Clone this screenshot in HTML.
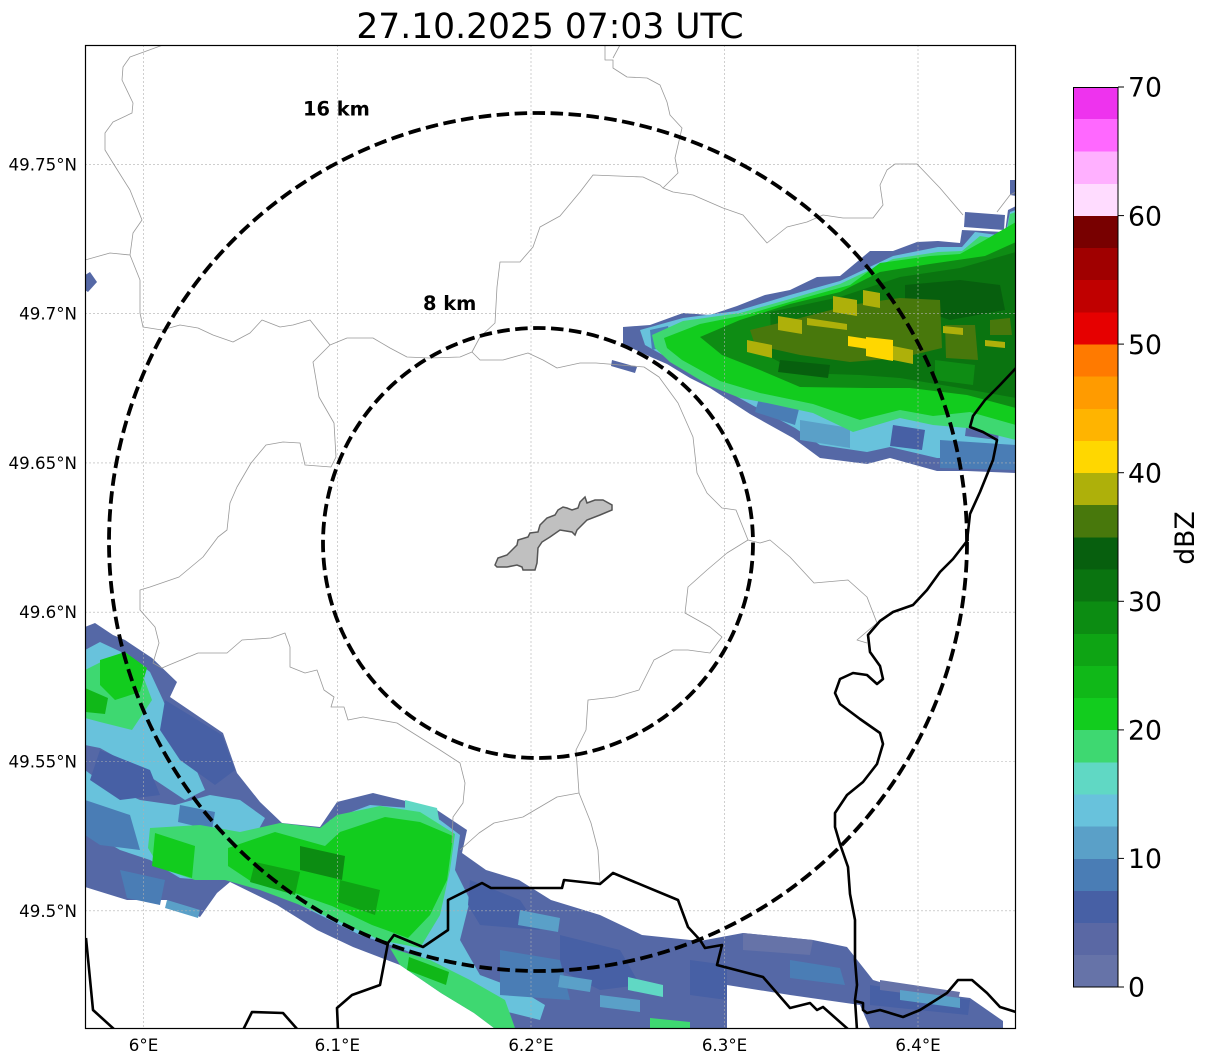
<!DOCTYPE html>
<html><head><meta charset="utf-8"><style>
html,body{margin:0;padding:0;background:#fff;}
svg{display:block;}
text{font-family:"DejaVu Sans","Liberation Sans",sans-serif;}
</style></head><body>
<svg width="1207" height="1064" viewBox="0 0 1207 1064" xmlns="http://www.w3.org/2000/svg">
<defs><clipPath id="ax"><rect x="85.5" y="45.5" width="930" height="983"/></clipPath></defs>
<rect width="1207" height="1064" fill="#fff"/>
<g clip-path="url(#ax)">
<!-- NE band -->
<polygon fill="#5568a6" points="623,327 650,325 683,313 710,315 737,306 765,295 790,290 817,277 840,276 870,251 893,251 917,242 938,241 960,243 962,230 1005,232 1008,210 1016,206 1016,473 967,471 937,471 890,458 867,464 820,458 793,438 750,414 710,388 690,378 667,364 653,358 623,344"/>
<polygon fill="#5568a6" points="965,212 1005,215 1004,230 964,227"/>
<polygon fill="#5568a6" points="1010,180 1016,180 1016,196 1010,195"/>
<polygon fill="#5568a6" points="612,360 637,367 635,373 611,366"/>
<polygon fill="#68c2dc" points="640,330 683,318 737,311 790,295 840,281 893,256 938,247 962,247 975,232 1005,236 1010,212 1016,210 1016,458 967,458 937,458 890,447 867,452 820,445 795,428 752,405 712,383 668,358 645,345"/>
<polygon fill="#4760a5" points="893,425 925,430 922,450 890,446"/>
<polygon fill="#4a7db5" points="940,440 1016,445 1016,470 940,468"/>
<polygon fill="#4a7db5" points="760,395 800,405 795,425 755,412"/>
<polygon fill="#5aa0c8" points="800,420 850,428 850,448 800,440"/>
<polygon fill="#5568a6" points="967,420 1000,425 998,440 965,436"/>
<polygon fill="#4a7db5" points="650,330 668,326 672,345 652,350"/>
<polygon fill="#3ed871" points="652,335 683,321 740,313 790,299 840,284 893,259 938,252 962,251 980,236 1005,240 1010,214 1016,212 1016,440 967,428 933,425 900,418 853,432 813,413 767,403 740,398 710,386 670,362 655,348"/>
<polygon fill="#12cc1e" points="664,338 700,324 745,315 800,299 850,285 880,263 930,256 960,254 985,240 1016,222 1016,425 970,412 933,416 900,410 860,420 813,404 760,393 720,381 682,360 667,348"/>
<polygon fill="#0e8c14" points="700,337 740,320 790,304 840,292 880,272 930,264 985,256 1016,242 1016,408 967,395 910,388 867,388 800,387 760,370 722,355"/>
<polygon fill="#0a7410" points="770,312 840,297 900,277 960,268 1016,252 1016,398 960,388 900,378 860,375 800,373 772,358"/>
<polygon fill="#075f0e" points="905,285 960,280 1000,285 1005,310 950,320 905,305"/>
<polygon fill="#075f0e" points="780,360 830,365 828,378 778,372"/>
<polygon fill="#0e8c14" points="935,360 975,365 973,385 935,380"/>
<polygon fill="#48780c" points="750,330 800,318 850,305 900,298 940,300 942,348 900,358 850,362 800,355 755,345"/>
<polygon fill="#48780c" points="945,325 975,325 978,360 946,358"/>
<polygon fill="#48780c" points="990,320 1010,318 1012,335 990,335"/>
<polygon fill="#aeb00a" points="747,340 772,345 772,358 747,352"/>
<polygon fill="#aeb00a" points="778,316 802,320 802,334 778,330"/>
<polygon fill="#aeb00a" points="833,296 857,300 857,316 833,312"/>
<polygon fill="#aeb00a" points="863,290 880,293 880,308 863,305"/>
<polygon fill="#aeb00a" points="807,318 847,324 847,330 807,325"/>
<polygon fill="#aeb00a" points="893,346 913,350 913,364 893,360"/>
<polygon fill="#aeb00a" points="943,326 963,328 963,335 943,333"/>
<polygon fill="#aeb00a" points="985,340 1005,342 1005,348 985,346"/>
<polygon fill="#ffd700" points="866,337 893,340 893,361 866,356"/>
<polygon fill="#ffd700" points="848,336 868,339 868,349 848,346"/>

<!-- small piece top-left -->
<polygon fill="#5568a6" points="85,275 90,272 97,282 88,292 85,290"/>

<!-- SW band -->
<polygon fill="#5568a6" points="85,627 95,623 113,635 125,640 152,658 177,682 170,697 223,733 237,773 260,802 282,823 320,827 337,802 373,793 410,802 437,810 467,830 462,853 486,870 519,880 551,900 600,915 642,935 700,941 743,933 813,940 847,947 873,980 907,990 970,998 1003,1021 1003,1028 870,1028 860,1005 790,995 727,985 727,1028 494,1028 474,1013 441,993 400,965 353,947 317,930 277,905 230,882 217,893 200,917 167,900 127,900 85,887"/>
<polygon fill="#68c2dc" points="85,650 100,642 130,656 150,672 163,700 175,730 192,760 205,790 185,800 155,780 125,762 100,748 85,745"/>
<polygon fill="#68c2dc" points="85,770 105,785 140,800 175,805 210,795 240,800 265,818 250,845 225,862 205,880 180,878 150,860 120,850 95,835 85,828"/>
<polygon fill="#68c2dc" points="330,820 370,805 410,808 440,820 460,835 455,870 470,900 460,940 480,975 520,990 545,1005 540,1020 500,1010 470,990 440,965 400,948 360,935 320,915 290,900 300,860"/>
<polygon fill="#4760a5" points="165,700 222,735 235,770 215,785 180,760 160,730"/>
<polygon fill="#4760a5" points="100,750 150,770 160,795 120,800 90,780"/>
<polygon fill="#4760a5" points="470,880 520,900 540,930 480,925 468,905"/>
<polygon fill="#4760a5" points="560,935 620,950 640,985 600,990 560,970"/>
<polygon fill="#4760a5" points="690,960 727,965 727,1000 690,995"/>
<polygon fill="#4760a5" points="870,985 970,1000 968,1015 870,1005"/>
<polygon fill="#4a7db5" points="85,800 130,815 140,850 100,845 85,835"/>
<polygon fill="#4a7db5" points="120,870 165,880 160,905 127,898"/>
<polygon fill="#4a7db5" points="500,950 560,960 570,1000 500,995"/>
<polygon fill="#4a7db5" points="790,960 840,968 845,985 790,978"/>
<polygon fill="#4a7db5" points="180,805 215,812 212,830 178,822"/>
<polygon fill="#6673a8" points="743,933 813,940 810,955 743,950"/>
<polygon fill="#6673a8" points="880,980 960,992 958,1000 880,990"/>
<polygon fill="#5aa0c8" points="167,900 200,910 198,918 165,908"/>
<polygon fill="#5aa0c8" points="900,990 960,998 960,1008 900,1000"/>
<polygon fill="#5aa0c8" points="560,975 592,980 590,992 558,987"/>
<polygon fill="#5aa0c8" points="600,995 640,1000 640,1012 600,1007"/>
<polygon fill="#5aa0c8" points="520,910 560,918 558,932 518,925"/>
<polygon fill="#60d8c4" points="628,977 663,985 663,997 628,990"/>
<polygon fill="#60d8c4" points="405,800 437,808 440,825 405,818"/>
<polygon fill="#3ed871" points="85,670 105,660 140,668 152,700 132,730 100,722 85,718"/>
<polygon fill="#12cc1e" points="100,660 125,652 147,668 140,692 115,700 100,685"/>
<polygon fill="#10b818" points="85,688 108,698 105,714 85,712"/>
<polygon fill="#3ed871" points="150,828 200,825 240,832 280,823 320,828 337,815 380,806 420,812 455,834 450,870 440,915 420,948 380,940 340,922 300,905 260,890 225,880 195,880 160,868 148,848"/>
<polygon fill="#12cc1e" points="155,833 195,846 192,878 152,866"/>
<polygon fill="#12cc1e" points="228,848 275,832 325,846 340,832 385,817 420,822 453,836 447,880 430,915 408,938 372,925 332,906 292,892 252,882 228,866"/>
<polygon fill="#0ea414" points="255,862 300,872 295,895 250,882"/>
<polygon fill="#0ea414" points="340,880 380,890 375,915 338,902"/>
<polygon fill="#0c8c12" points="300,846 345,856 342,880 300,870"/>
<polygon fill="#3ed871" points="390,948 430,960 470,980 505,1000 515,1028 494,1028 474,1013 441,993 400,965"/>
<polygon fill="#10b818" points="409,957 449,972 446,985 407,970"/>
<polygon fill="#3ed871" points="650,1018 690,1022 690,1028 650,1028"/>
</g>

<!-- gridlines -->
<g stroke="#b0b0b0" stroke-width="0.6" stroke-dasharray="2,2" fill="none">
<line x1="143.5" y1="45" x2="143.5" y2="1028"/>
<line x1="337.3" y1="45" x2="337.3" y2="1028"/>
<line x1="531" y1="45" x2="531" y2="1028"/>
<line x1="724.5" y1="45" x2="724.5" y2="1028"/>
<line x1="918" y1="45" x2="918" y2="1028"/>
<line x1="85" y1="164.3" x2="1015" y2="164.3"/>
<line x1="85" y1="313.6" x2="1015" y2="313.6"/>
<line x1="85" y1="462.9" x2="1015" y2="462.9"/>
<line x1="85" y1="612.2" x2="1015" y2="612.2"/>
<line x1="85" y1="761.5" x2="1015" y2="761.5"/>
<line x1="85" y1="910.8" x2="1015" y2="910.8"/>
</g>

<!-- gray admin lines -->
<g clip-path="url(#ax)" stroke="#999" stroke-width="0.8" fill="none" stroke-linejoin="round">
<polyline points="163,45 130,57 123,67 122,80 133,103 132,113 113,122 105,133 105,150 113,163 130,190 142,220 133,233 130,255 140,280 140,313 143,327 162,330 180,325 198,328 213,335 233,342 250,333 262,320 280,327 293,325 310,320 330,345 347,338 373,338 390,348 407,357 430,358 460,357 472,352 480,337 495,323 497,287 500,262 520,262 533,247 540,227 560,216 580,192 593,175 643,177 660,185 663,188 678,173 675,158 682,128 670,115 667,102 660,85 647,78 627,77 613,68 613,60 605,60 605,45"/>
<polyline points="620,45 613,58"/>
<polyline points="130,255 110,253 85,260"/>
<polyline points="663,188 673,192 693,195 723,208 743,215 767,243 787,227 807,222 823,215 843,218 873,218 883,205 880,185 887,170 895,164 917,164 940,188 963,215"/>
<polyline points="997,212 1010,195 1016,192"/>
<polyline points="330,345 313,362 319,397 334,423 336,457 331,467 305,465 300,443 283,442 266,445 251,463 237,487 230,503 227,530 218,537 203,557 179,577 150,587 140,590 140,610 155,627 159,643 153,663 162,668 169,665 198,653 227,653 242,640 271,638 285,633 290,647 290,667 305,673 317,670 324,690 334,697 331,707 344,707 348,720 363,717 397,723 440,750 460,763 465,783 463,803 453,817 452,843"/>
<polyline points="460,850 479,833 494,823 523,817 557,797 579,793"/>
<polyline points="472,352 480,360 503,360 528,353 543,360 557,368 580,363 596,363 644,367 659,377 678,403 693,437 697,473 707,493 722,508 736,510 748,540 760,543 770,540 790,557 814,583 848,580 867,597 877,623 857,640 867,643"/>
<polyline points="748,540 727,553 707,570 688,587 685,613 710,627 722,637 710,653 688,650 673,650 654,660 639,690 615,697 588,700 586,730 576,750 579,793 591,823 598,850 600,884"/>
</g>

<!-- black borders -->
<g clip-path="url(#ax)" stroke="#000" stroke-width="2.6" fill="none" stroke-linejoin="round">
<polyline points="1016,368 1000,385 985,400 973,416 970,427 983,432 997,440 993,460 980,492 970,514 967,541 953,559 940,572 927,590 913,605 893,612 880,621 868,635 870,652 880,666 883,679 877,684 867,675 853,673 840,679 835,693 840,704 860,719 880,733 883,744 877,764 863,782 847,795 835,813 835,827 840,844 848,867 850,894 855,920 855,960 857,985 855,1000 857,1030"/>
<polyline points="855,1001 863,1003 863,1010 867,1013 880,1010 903,1017 920,1010 947,993 958,980 972,980 987,993 1000,1007 1016,1012"/>
<polyline points="338,1030 337,1008 352,995 380,985 388,943 394,935 423,947 448,930 448,900 482,883 491,888 562,888 564,880 600,884 613,873 678,900 688,927 700,940 705,948 722,945 717,965 763,977 790,1008 810,1003 817,1010 823,1007 849,1030"/>
<polyline points="86,938 93,1010 115,1030"/>
<polyline points="243,1030 252,1012 283,1013 298,1030"/>
</g>

<!-- city polygon -->
<polygon fill="#c0c0c0" stroke="#555" stroke-width="1.5" points="495,565 498,558 507,555 517,545 518,540 528,537 530,533 538,532 540,525 547,518 555,515 558,510 563,507 567,508 572,510 578,508 580,502 585,497 587,503 595,500 603,500 612,505 612,510 600,515 587,520 582,525 577,530 575,535 572,532 560,530 550,537 542,542 538,548 537,563 535,570 523,570 522,567 517,565 507,567 497,567"/>

<!-- range circles -->
<g fill="none" stroke="#000" stroke-width="3.8" stroke-dasharray="12.5,5.5">
<circle cx="538" cy="542" r="429"/>
<circle cx="538" cy="543" r="215"/>
</g>
<text x="303" y="115.5" font-size="19.4" font-weight="bold">16 km</text>
<text x="423" y="310" font-size="19.4" font-weight="bold">8 km</text>

<!-- axes frame -->
<rect x="85.5" y="45.5" width="930" height="983" fill="none" stroke="#000" stroke-width="1.2"/>

<!-- title -->
<text x="550" y="38" font-size="34.5" text-anchor="middle">27.10.2025 07:03 UTC</text>

<!-- tick labels -->
<g font-size="16.67" text-anchor="end">
<text x="77" y="170.3">49.75°N</text>
<text x="77" y="319.6">49.7°N</text>
<text x="77" y="468.9">49.65°N</text>
<text x="77" y="618.2">49.6°N</text>
<text x="77" y="767.5">49.55°N</text>
<text x="77" y="916.8">49.5°N</text>
</g>
<g font-size="16.67" text-anchor="middle">
<text x="143.5" y="1051">6°E</text>
<text x="337.3" y="1051">6.1°E</text>
<text x="531" y="1051">6.2°E</text>
<text x="724.5" y="1051">6.3°E</text>
<text x="918" y="1051">6.4°E</text>
</g>

<!-- colorbar -->
<g shape-rendering="crispEdges">
<rect x="1073" y="954.86" width="45" height="32.5" fill="#6673a8"/>
<rect x="1073" y="922.71" width="45" height="32.5" fill="#5a68a4"/>
<rect x="1073" y="890.57" width="45" height="32.5" fill="#4760a5"/>
<rect x="1073" y="858.43" width="45" height="32.5" fill="#4a7db5"/>
<rect x="1073" y="826.29" width="45" height="32.5" fill="#5aa0c8"/>
<rect x="1073" y="794.14" width="45" height="32.5" fill="#68c2dc"/>
<rect x="1073" y="762.00" width="45" height="32.5" fill="#60d8c4"/>
<rect x="1073" y="729.86" width="45" height="32.5" fill="#3ed871"/>
<rect x="1073" y="697.71" width="45" height="32.5" fill="#12cc1e"/>
<rect x="1073" y="665.57" width="45" height="32.5" fill="#10b818"/>
<rect x="1073" y="633.43" width="45" height="32.5" fill="#0ea414"/>
<rect x="1073" y="601.29" width="45" height="32.5" fill="#0c8c12"/>
<rect x="1073" y="569.14" width="45" height="32.5" fill="#0a7410"/>
<rect x="1073" y="537.00" width="45" height="32.5" fill="#075f0e"/>
<rect x="1073" y="504.86" width="45" height="32.5" fill="#48780c"/>
<rect x="1073" y="472.71" width="45" height="32.5" fill="#aeb00a"/>
<rect x="1073" y="440.57" width="45" height="32.5" fill="#ffd700"/>
<rect x="1073" y="408.43" width="45" height="32.5" fill="#ffb400"/>
<rect x="1073" y="376.29" width="45" height="32.5" fill="#ff9b00"/>
<rect x="1073" y="344.14" width="45" height="32.5" fill="#ff7a00"/>
<rect x="1073" y="312.00" width="45" height="32.5" fill="#e60000"/>
<rect x="1073" y="279.86" width="45" height="32.5" fill="#c00000"/>
<rect x="1073" y="247.71" width="45" height="32.5" fill="#a00000"/>
<rect x="1073" y="215.57" width="45" height="32.5" fill="#780000"/>
<rect x="1073" y="183.43" width="45" height="32.5" fill="#ffdcff"/>
<rect x="1073" y="151.29" width="45" height="32.5" fill="#ffb0ff"/>
<rect x="1073" y="119.14" width="45" height="32.5" fill="#ff68ff"/>
<rect x="1073" y="87.00" width="45" height="32.14" fill="#ee33ee"/>
</g>
<rect x="1073.5" y="87.5" width="44.5" height="899.5" fill="none" stroke="#000" stroke-width="1"/>
<g stroke="#000" stroke-width="1">
<line x1="1118" y1="987" x2="1124" y2="987"/>
<line x1="1118" y1="858.4" x2="1124" y2="858.4"/>
<line x1="1118" y1="729.9" x2="1124" y2="729.9"/>
<line x1="1118" y1="601.3" x2="1124" y2="601.3"/>
<line x1="1118" y1="472.7" x2="1124" y2="472.7"/>
<line x1="1118" y1="344.1" x2="1124" y2="344.1"/>
<line x1="1118" y1="215.6" x2="1124" y2="215.6"/>
<line x1="1118" y1="87" x2="1124" y2="87"/>
</g>
<g font-size="26.67">
<text x="1128" y="996.7">0</text>
<text x="1128" y="868.1">10</text>
<text x="1128" y="739.6">20</text>
<text x="1128" y="611">30</text>
<text x="1128" y="482.4">40</text>
<text x="1128" y="353.8">50</text>
<text x="1128" y="225.3">60</text>
<text x="1128" y="96.7">70</text>
</g>
<text transform="translate(1194,538) rotate(-90)" font-size="26.67" text-anchor="middle">dBZ</text>
</svg>
</body></html>
